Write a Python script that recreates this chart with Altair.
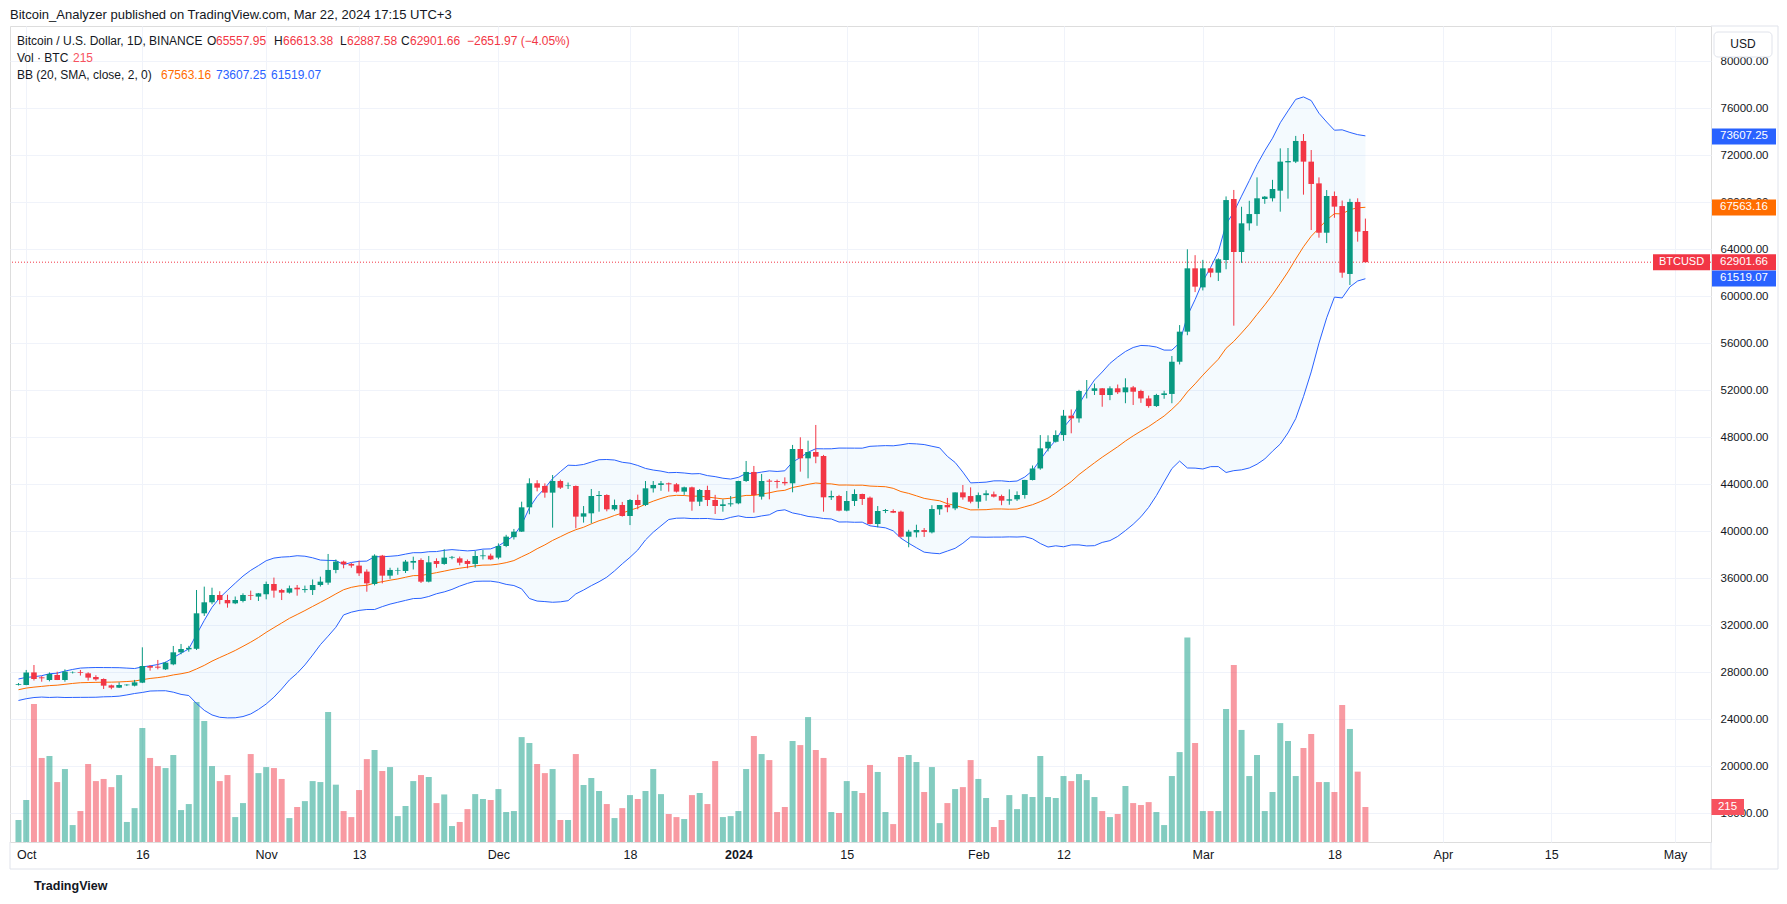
import altair as alt
import pandas as pd

GREEN = "#089981"
RED = "#F23645"
BLUE = "#2962FF"
ORANGE = "#FF6D00"
TEXT = "#131722"
GRID = "#F0F3FA"
BORDER = "#E0E3EB"
VOLRED = "#F7525F"
FONT = "Liberation Sans"

# ---------------- data (daily candles 2023-09-30 .. 2024-03-22) ----------------
opens = [26920,
    26920, 27990, 27570, 27345, 27770, 27345, 27990, 28020, 27910, 27600, 27430, 26890, 26692, 26900, 26863, 27118, 28536, 28480, 28252, 28678, 29700, 29955, 30000, 33020, 33956, 34580, 34155, 33870, 34070, 34580, 34440,
    34640, 35515, 35000, 34780, 35200, 35000, 35000, 35430, 35630, 36710, 37420, 37220, 37080, 36567, 35515, 37927, 36225, 36650, 36624, 37330, 37560, 35713, 37474, 37220, 37760, 37700, 37470, 37220, 37880, 37930,
    37760, 38750, 39500, 39970, 42040, 44084, 43860, 43290, 44280, 43850, 43857, 41247, 41530, 43005, 43090, 41870, 42240, 41300, 42665, 42240, 43658, 43940, 44084, 44000, 43375, 43743, 42523, 43517, 42665, 42155, 42296,
    42380, 44280, 45050, 42950, 44310, 44280, 44200, 44084, 47006, 46211, 46750, 46410, 42890, 43005, 41757, 42580, 43175, 42864, 40623, 41729, 41729, 41670, 39540, 39910, 40100, 39910, 41870, 42240, 41950, 43310, 43000,
    42520, 43080, 43150, 43000, 42610, 42720, 43090, 44370, 45350, 47060, 47620, 48190, 49840, 49610, 51940, 51950, 52170, 51600, 52170, 51830, 52250, 51940, 51310, 50660, 51600, 51690, 54430, 56990, 62380,
    60760, 62380, 62010, 63090, 68280, 63770, 66210, 67000, 68280, 68340, 68990, 71400, 71460, 73220, 71460, 69610, 65410, 68535, 67680, 61900, 68030, 65557.95]

highs = [27090,
    28200, 28620, 27680, 27990, 28050, 28250, 28070, 28200, 28000, 27750, 27480, 26950, 27150, 26990, 27350, 30125, 28620, 29050, 28900, 30240, 30410, 30250, 35005, 35290, 35200, 34900, 34600, 34450, 34720, 34950, 34750,
    35720, 36060, 35100, 35380, 35430, 35380, 35900, 36140, 38070, 37600, 37500, 37300, 37500, 36760, 38040, 37990, 36900, 36900, 37560, 37840, 37700, 37900, 37700, 38470, 37900, 37850, 37600, 38320, 38410, 38100,
    38970, 39700, 40200, 42520, 44510, 44350, 44080, 44790, 44400, 44150, 43900, 42150, 43600, 43430, 43150, 42700, 42500, 42750, 43120, 44280, 44280, 44280, 44150, 44100, 43800, 43800, 43600, 43880, 43100, 42720, 43000,
    44300, 45985, 45560, 44880, 44450, 44400, 44590, 47350, 48000, 47715, 49050, 46500, 43460, 43100, 43430, 43570, 43200, 42960, 42150, 41900, 41870, 41760, 40130, 40560, 40280, 42220, 42240, 42840, 43310, 43940, 43740,
    43300, 43490, 43380, 43120, 43570, 43400, 44380, 45600, 48190, 48170, 48590, 50330, 50370, 52040, 52875, 52570, 52190, 52340, 52490, 53020, 52370, 52050, 51550, 51700, 51960, 54920, 57550, 64000, 63500,
    63100, 62430, 63230, 68500, 69050, 67620, 68130, 70120, 68530, 69910, 72590, 72620, 73650, 73810, 72450, 70120, 69040, 68920, 68150, 68300, 68340, 66613.38]

lows = [26880,
    26900, 27300, 27200, 27230, 27340, 27200, 27900, 27720, 27290, 27280, 26580, 26560, 26660, 26830, 26800, 27080, 28140, 28250, 28200, 28600, 29530, 29750, 29900, 32800, 33790, 33790, 33500, 33800, 33950, 34150, 34070,
    34210, 34350, 34150, 34700, 34520, 34780, 34580, 35300, 35450, 36430, 36850, 36900, 36200, 34860, 35400, 35570, 35950, 36300, 36450, 36750, 35600, 35650, 36900, 37150, 37620, 37100, 36850, 36900, 37600, 37550,
    37620, 38650, 39300, 39950, 41450, 43400, 42860, 40310, 43600, 43600, 40250, 40740, 40680, 41670, 41700, 41750, 41250, 40530, 41870, 42150, 43300, 43450, 43375, 43300, 43100, 41750, 42150, 42150, 41470, 41670, 42100,
    42300, 44200, 41590, 42700, 42720, 43660, 43900, 43320, 45075, 44510, 45790, 41670, 42665, 41700, 41700, 42155, 42240, 40580, 40340, 41550, 41550, 39450, 38640, 39480, 39520, 39820, 41400, 41620, 41800, 42690, 42380,
    41950, 42600, 42880, 42220, 42260, 42580, 42780, 44330, 45240, 46800, 47550, 47700, 48340, 49250, 51310, 51600, 50600, 51160, 51680, 50900, 50750, 50930, 50520, 50580, 51280, 50900, 54200, 56690, 60360,
    60500, 61620, 61300, 62300, 57500, 62850, 65600, 66000, 67870, 68070, 67200, 68310, 71340, 68650, 65640, 64990, 64530, 66680, 61580, 60960, 64650, 62887.58]

closes = [26980,
    27990, 27430, 27490, 27855, 27345, 28055, 28020, 27960, 27544, 27400, 26863, 26692, 26920, 26950, 27146, 28536, 28394, 28394, 28820, 29700, 29983, 30080, 33020, 33956, 34580, 34155, 33870, 34155, 34580, 34520, 34720,
    35515, 34950, 34780, 35150, 35060, 35080, 35430, 35715, 36710, 37420, 37190, 37080, 36424, 35570, 37927, 36225, 36710, 36700, 37420, 37475, 35713, 37360, 37220, 37760, 37820, 37330, 37220, 37900, 37950, 37610,
    38750, 39545, 39970, 42040, 44084, 43715, 43290, 44280, 43715, 43900, 41247, 41530, 43005, 43090, 41870, 42240, 41300, 42665, 42240, 43658, 43940, 44084, 44000, 43375, 43743, 42523, 43517, 42665, 42155, 42296, 42380,
    44280, 45050, 43090, 44280, 44225, 44200, 44084, 47006, 46211, 46750, 46353, 42892, 43005, 41757, 42580, 43175, 42750, 40623, 41729, 41814, 41587, 39540, 39970, 40110, 39950, 41900, 42240, 42040, 43310, 42890, 42520,
    43080, 43230, 42950, 42610, 42720, 43090, 44370, 45350, 47060, 47620, 48190, 49840, 49610, 51940, 51950, 52170, 51600, 52170, 51830, 52250, 51880, 51310, 50660, 51600, 51740, 54430, 56990, 62380, 60820,
    62380, 62010, 63150, 68190, 63770, 66210, 67000, 68340, 68480, 69130, 71460, 71510, 73220, 71460, 69560, 65410, 68535, 67630, 62010, 68030, 65500, 62901.66]

volumes = [135,
    258, 847, 516, 528, 368, 448, 104, 190, 479, 374, 387, 337, 411, 123, 208, 700, 516, 466, 454, 534, 196, 233, 859, 743, 466, 374, 411, 153, 239, 540, 423,
    460, 454, 387, 147, 215, 251, 374, 368, 798, 352, 190, 153, 319, 509, 565, 436, 460, 159, 221, 374, 411, 399, 239, 292, 98, 123, 202, 294, 264, 258,
    325, 184, 190, 644, 608, 479, 423, 448, 135, 135, 540, 350, 393, 313, 233, 147, 208, 288, 264, 313, 448, 294, 172, 153, 141, 288, 301, 233, 497, 153, 159,
    190, 448, 651, 540, 503, 184, 215, 620, 595, 767, 565, 516, 184, 178, 374, 313, 301, 473, 430, 184, 110, 522, 534, 491, 307, 460, 116, 239, 325, 337, 503,
    387, 270, 92, 135, 288, 202, 294, 276, 528, 276, 270, 405, 374, 417, 380, 276, 190, 153, 172, 344, 239, 227, 245, 184, 104, 405, 552, 1255, 608,
    190, 190, 190, 816, 1087, 688, 405, 534, 190, 307, 730, 620, 405, 577, 663, 368, 368, 307, 841, 694, 432, 215]

# closes of the 19 sessions before the first visible candle (needed for the 20-day bands)
warmup_closes = [25162, 25840, 26223, 26529, 26608, 26568, 26527, 26763, 27211, 27133,
                 26568, 26580, 26580, 26256, 26299, 26217, 26353, 27021, 26911]

tick_dates = ["2023-10-01", "2023-10-16", "2023-11-01", "2023-11-13", "2023-12-01", "2023-12-18",
              "2024-01-01", "2024-01-15", "2024-02-01", "2024-02-12", "2024-03-01", "2024-03-18",
              "2024-04-01", "2024-04-15", "2024-05-01"]
price_ticks = list(range(16000, 84000, 4000))

box_prices = [73607.25, 67563.16, 62901.66, 61519.07]
box_labels = ["73607.25", "67563.16", "62901.66", "61519.07"]
box_colors = [BLUE, ORANGE, RED, BLUE]
last_price = 62901.66

n = len(closes)
assert len(opens) == n and len(highs) == n and len(lows) == n and len(volumes) == n, (len(opens), len(highs), len(lows), n, len(volumes))

dates = pd.date_range("2023-09-30", periods=n, freq="D").strftime("%Y-%m-%d").tolist()
df = pd.DataFrame({"date": dates, "open": opens, "high": highs, "low": lows,
                   "close": closes, "vol": volumes})
warm_dates = pd.date_range("2023-09-11", periods=len(warmup_closes), freq="D").strftime("%Y-%m-%d").tolist()
bb_df = pd.DataFrame({"date": warm_dates + dates, "close": warmup_closes + closes,
                      "show": [False] * len(warmup_closes) + [True] * n})

# ---------------- scales / axes ----------------
def dt(s, h=0, m=0):
    y, mo, d = [int(v) for v in s.split("-")]
    return alt.DateTime(year=y, month=mo, date=d, hours=h, minutes=m, utc=True)

W, H = 1701, 816
xscale = alt.Scale(type="utc", domain=[dt("2023-09-29", 13, 12), dt("2024-05-05")])
price_scale = alt.Scale(domain=[13557, 83004], nice=False, zero=False)
vol_scale = alt.Scale(domain=[0, 5010], nice=False, zero=False)

x_axis = alt.Axis(
    values=[dt(s) for s in tick_dates],
    labelExpr="utcdate(datum.value) == 1 ? (utcmonth(datum.value) == 0 ? utcFormat(datum.value, '%Y') : utcFormat(datum.value, '%b')) : utcFormat(datum.value, '%d')",
    labelFontWeight={"condition": {"test": "utcmonth(datum.value) == 0 && utcdate(datum.value) == 1", "value": "bold"}, "value": "normal"},
    grid=True, gridColor=GRID, gridWidth=1, domain=False, ticks=False,
    labelPadding=6, labelFontSize=12.5, labelColor=TEXT, labelFont=FONT,
    labelFlush=False, labelOverlap=False, labelBound=False, title=None)

y_axis = alt.Axis(
    orient="right", values=price_ticks, format=".2f",
    grid=True, gridColor=GRID, gridWidth=1, domain=False, ticks=False,
    labelPadding=9, labelAlign="left", labelFontSize=11.5, labelColor=TEXT, labelFont=FONT,
    labelFlush=False, labelOverlap=False, labelBound=False, title=None)

X = alt.X("date:T", scale=xscale, axis=x_axis, title=None)
updown = alt.condition("datum.close >= datum.open", alt.value(GREEN), alt.value(RED))

def PY(field):
    return alt.Y(field, scale=price_scale, axis=y_axis, title=None)

# ---------------- Bollinger bands (20, SMA, close, 2) ----------------
bb = (alt.Chart(bb_df)
      .transform_calculate(c2="datum.close * datum.close")
      .transform_window(ma="mean(close)", m2="mean(c2)", frame=[-19, 0],
                        sort=[alt.SortField("date", order="ascending")])
      .transform_calculate(sd="sqrt(max(datum.m2 - datum.ma * datum.ma, 0))")
      .transform_calculate(up="datum.ma + 2 * datum.sd", lo="datum.ma - 2 * datum.sd")
      .transform_filter("datum.show"))

bb_fill = bb.mark_area(color="#2196F3", opacity=0.05).encode(x=X, y=PY("up:Q"), y2="lo:Q")
bb_up = bb.mark_line(color=BLUE, strokeWidth=1).encode(x=X, y=PY("up:Q"))
bb_lo = bb.mark_line(color=BLUE, strokeWidth=1).encode(x=X, y=PY("lo:Q"))
bb_mid = bb.mark_line(color=ORANGE, strokeWidth=1).encode(x=X, y=PY("ma:Q"))

# ---------------- candles ----------------
candles = alt.Chart(df)
wicks = candles.mark_rule(strokeWidth=1).encode(x=X, y=PY("low:Q"), y2="high:Q", color=updown)
bodies = candles.mark_bar(size=5.6).encode(x=X, y=PY("open:Q"), y2="close:Q", color=updown)

price_line = (alt.Chart(pd.DataFrame({"p": [last_price]}))
              .mark_rule(color=RED, strokeDash=[1, 2], strokeWidth=1)
              .encode(y=PY("p:Q")))

# price-axis value boxes (half box height = 8 px in price units)
half = 8 * (83004 - 13557) / H
boxes_df = pd.DataFrame({"p": box_prices, "t": box_labels, "c": box_colors})
box_base = alt.Chart(boxes_df).transform_calculate(lo=f"datum.p - {half}", hi=f"datum.p + {half}")
boxes = box_base.mark_rect().encode(
    x=alt.value(W + 1), x2=alt.value(W + 65), y=PY("lo:Q"), y2="hi:Q",
    color=alt.Color("c:N", scale=None))
box_text = alt.Chart(boxes_df).mark_text(align="center", baseline="middle", fontSize=11.5,
                                         color="white", font=FONT).encode(
    x=alt.value(W + 33), y=PY("p:Q"), text="t:N")

sym_df = pd.DataFrame({"p": [last_price], "t": ["BTCUSD"]})
sym_box = (alt.Chart(sym_df).transform_calculate(lo=f"datum.p - {half}", hi=f"datum.p + {half}")
           .mark_rect(color=RED).encode(x=alt.value(W - 58), x2=alt.value(W - 1), y=PY("lo:Q"), y2="hi:Q"))
sym_text = alt.Chart(sym_df).mark_text(align="center", baseline="middle", fontSize=11,
                                       color="white", font=FONT).encode(
    x=alt.value(W - 29.5), y=PY("p:Q"), text="t:N")

price_group = alt.layer(bb_fill, bb_up, bb_lo, bb_mid, price_line, wicks, bodies,
                        boxes, box_text, sym_box, sym_text)

# ---------------- volume ----------------
VY = lambda f: alt.Y(f, scale=vol_scale, axis=None, title=None)
vol_bars = candles.mark_bar(size=6, opacity=0.5).encode(x=X, y=VY("vol:Q"), color=updown)
vhalf = 8 * 5010 / H
last_vol = alt.Chart(df.tail(1))
vol_box = (last_vol.transform_calculate(v0=f"datum.vol - {vhalf}", v1=f"datum.vol + {vhalf}")
           .mark_rect(color=VOLRED).encode(x=alt.value(W + 0.5), x2=alt.value(W + 33), y=VY("v0:Q"), y2="v1:Q"))
vol_text = last_vol.mark_text(align="center", baseline="middle", fontSize=11.5, color="white",
                              font=FONT).encode(x=alt.value(W + 16.5), y=VY("vol:Q"), text="vol:Q")
vol_group = alt.layer(vol_bars, vol_box, vol_text)

# ---------------- annotations (header, legend, frame) ----------------
ann = pd.DataFrame([
    ("Bitcoin_Analyzer published on TradingView.com, Mar 22, 2024 17:15 UTC+3", 0, -11, TEXT, 13),
    ("Bitcoin / U.S. Dollar, 1D, BINANCE", 7, 15, TEXT, 12),
    ("O", 197, 15, TEXT, 12), ("65557.95", 206, 15, RED, 12),
    ("H", 264, 15, TEXT, 12), ("66613.38", 273, 15, RED, 12),
    ("L", 330, 15, TEXT, 12), ("62887.58", 337, 15, RED, 12),
    ("C", 391, 15, TEXT, 12), ("62901.66", 400, 15, RED, 12),
    ("\u22122651.97 (\u22124.05%)", 457, 15, RED, 12),
    ("Vol \u00b7 BTC", 7, 32, TEXT, 12), ("215", 63, 32, VOLRED, 12),
    ("BB (20, SMA, close, 2, 0)", 7, 49, TEXT, 12),
    ("67563.16", 151, 49, ORANGE, 12), ("73607.25", 206, 49, BLUE, 12),
    ("61519.07", 261, 49, BLUE, 12),
], columns=["t", "px", "py", "col", "fs"])

ann_layer = alt.Chart(ann).mark_text(align="left", baseline="middle", font=FONT).encode(
    x=alt.X("px:Q", scale=None), y=alt.Y("py:Q", scale=None), text="t:N",
    color=alt.Color("col:N", scale=None), size=alt.Size("fs:Q", scale=None))

logo = alt.Chart(pd.DataFrame({"t": ["TradingView"]})).mark_text(
    align="left", baseline="middle", font=FONT, fontSize=12.5, fontWeight="bold", color=TEXT).encode(
    x=alt.value(24), y=alt.value(860), text="t:N")

usd_btn = alt.Chart(pd.DataFrame({"t": ["USD"]})).mark_rect(
    fill="white", stroke=BORDER, strokeWidth=1, cornerRadius=4).encode(
    x=alt.value(W + 3), x2=alt.value(W + 61), y=alt.value(6), y2=alt.value(31))
usd_txt = alt.Chart(pd.DataFrame({"t": ["USD"]})).mark_text(
    align="center", baseline="middle", font=FONT, fontSize=12, color=TEXT).encode(
    x=alt.value(W + 32), y=alt.value(18), text="t:N")

seg = pd.DataFrame({"x1": [W, W + 67, 0, 0, W], "x2": [W + 67, W + 67, W + 67, 0, W],
                    "y1": [0, 0, H + 27, H, H], "y2": [0, H + 27, H + 27, H + 27, H + 27]})
frame = alt.Chart(seg).mark_rule(color=BORDER, strokeWidth=1).encode(
    x=alt.X("x1:Q", scale=None), x2="x2:Q", y=alt.Y("y1:Q", scale=None), y2="y2:Q")

chart = (alt.layer(vol_group, price_group, frame, usd_btn, usd_txt, ann_layer, logo)
         .resolve_scale(y="independent", color="independent", size="independent")
         .properties(width=W, height=H,
                     padding={"left": 2, "top": 18, "right": 68, "bottom": 53},
                     autosize=alt.AutoSizeParams(type="none"))
         .configure_view(stroke=BORDER, strokeWidth=1)
         .configure(font=FONT, background="white"))

chart.save("out.html", embed_options={"renderer": "svg", "actions": False})
